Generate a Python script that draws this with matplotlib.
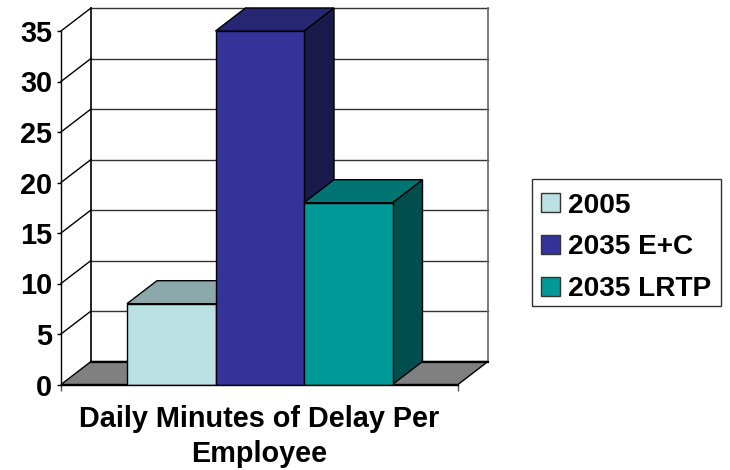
import matplotlib
matplotlib.use("Agg")
import matplotlib.pyplot as plt
from matplotlib.patches import Polygon, Patch, Rectangle

plt.rcParams['font.family'] = ['Liberation Sans', 'DejaVu Sans']
plt.rcParams['font.weight'] = 'bold'

series = ['2005', '2035 E+C', '2035 LRTP']
values = [8, 35, 18]
front_colors = ['#BBE0E3', '#333399', '#009999']
top_colors = ['#8CA8AA', '#262673', '#007373']
side_colors = ['#5E7072', '#1A1A4D', '#004D4D']
yticks = [0, 5, 10, 15, 20, 25, 30, 35]
category = 'Daily Minutes of Delay Per\nEmployee'

W, H = 730, 470
left, right, top, bottom = 61, 458, 31, 384.5
fig = plt.figure(figsize=(W / 100, H / 100), dpi=100)
ax = fig.add_axes([left / W, 1 - bottom / H, (right - left) / W, (bottom - top) / H])
ax.set_xlim(0, 1)
ax.set_ylim(0, 35)

# depth of the fake 3d box, in data units
dx = 30 / (right - left)
dy = 23 / ((bottom - top) / 35)
bar_w = 88.5 / (right - left)
bar_start = 66 / (right - left)


def poly(pts, fc, ec='black', lw=1.0, z=2):
    ax.add_patch(Polygon(pts, closed=True, facecolor=fc, edgecolor=ec, linewidth=lw,
                         zorder=z, clip_on=False))


# floor
poly([(0, 0), (1, 0), (1 + dx, dy), (dx, dy)], '#808080', z=1)

# back wall and side wall grid
for t in yticks[1:]:
    ax.plot([0, dx], [t, t + dy], color='black', lw=1.0, zorder=1, clip_on=False)
    ax.plot([dx, 1 + dx], [t + dy, t + dy], color='#333333', lw=1.0, zorder=1, clip_on=False)
ax.plot([dx, dx], [dy, 35 + dy], color='black', lw=1.2, zorder=1, clip_on=False)
ax.plot([1 + dx, 1 + dx], [dy, 35 + dy], color='#666666', lw=1.2, zorder=1, clip_on=False)
ax.plot([dx, 1 + dx], [dy, dy], color='black', lw=1.6, zorder=1, clip_on=False)

# bars, left to right so the later ones cover the earlier ones
for i, v in enumerate(values):
    x0 = bar_start + i * bar_w
    x1 = x0 + bar_w
    poly([(x1, 0), (x1 + dx, dy), (x1 + dx, v + dy), (x1, v)], side_colors[i], z=3 + i)
    poly([(x0, v), (x1, v), (x1 + dx, v + dy), (x0 + dx, v + dy)], top_colors[i], z=3 + i)
    ax.bar(x0, v, width=bar_w, align='edge', color=front_colors[i], edgecolor='black',
           linewidth=1.0, zorder=3 + i)

for s in ['top', 'right']:
    ax.spines[s].set_visible(False)
ax.patch.set_visible(False)
ax.spines['left'].set_linewidth(1.0)
ax.spines['bottom'].set_linewidth(1.0)
ax.spines['bottom'].set_zorder(20)

ax.set_yticks(yticks)
ax.tick_params(axis='y', length=3, width=1.0, labelsize=20.8, pad=3.5)
ax.set_xticks([0, 1])
ax.set_xticklabels(['', ''])
ax.tick_params(axis='x', length=4, width=1.0, color='#555555')
ax.set_xlabel(category, fontsize=20.8, fontweight='bold', labelpad=7, linespacing=1.32)

# legend frame is separate, the box has more room above and below than at the sides
fig.add_artist(Rectangle((532 / W, 1 - 306 / H), (721 - 532) / W, (306 - 179) / H,
                         transform=fig.transFigure, facecolor='white', edgecolor='#333333',
                         linewidth=1.0, zorder=-1))
handles = [Patch(facecolor=c, edgecolor='#333333', linewidth=1.0) for c in front_colors]
ax.legend(handles, series, loc='upper left', fontsize=20.2, frameon=False,
          handlelength=0.68, handleheight=0.68, handletextpad=0.29, labelspacing=0.56,
          borderpad=0.32, borderaxespad=0,
          bbox_to_anchor=((532 - left) / (right - left), (bottom - 183.6) / (bottom - top)))

fig.savefig('out.png', dpi=100)
